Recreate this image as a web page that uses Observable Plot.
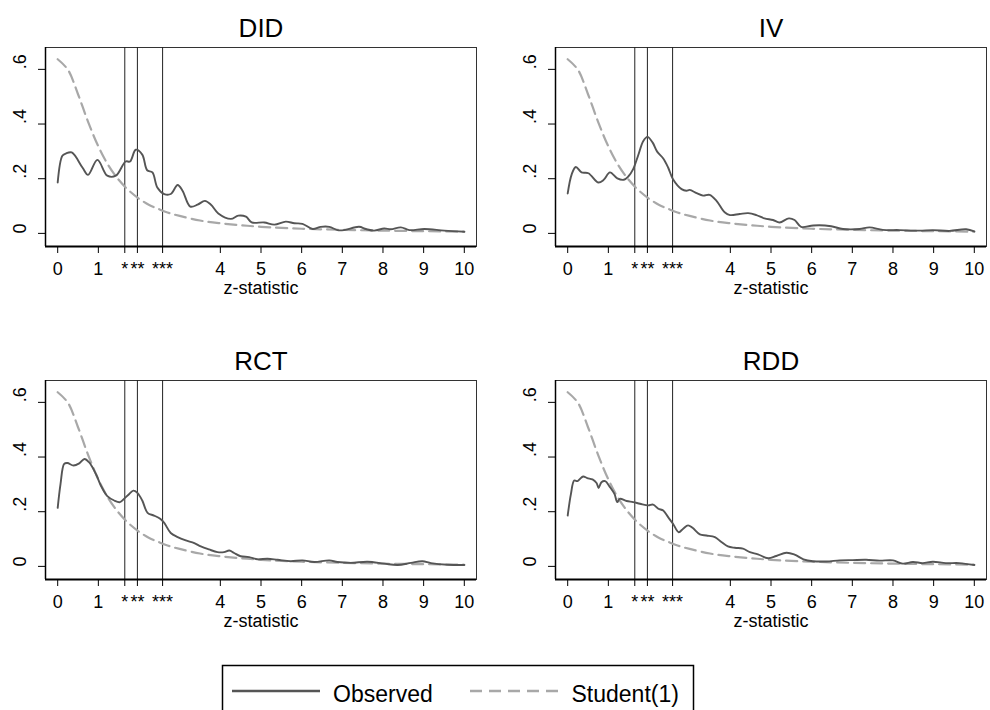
<!DOCTYPE html>
<html><head><meta charset="utf-8">
<script src="https://cdn.jsdelivr.net/npm/d3@7"></script>
<script src="https://cdn.jsdelivr.net/npm/@observablehq/plot@0.6"></script>
<style>
body{margin:0;background:#fff;font-family:"Liberation Sans",Arial,sans-serif;}
#root{position:relative;width:990px;height:710px;overflow:hidden;background:#fff;}
.panel{position:absolute;width:495px;height:300px;}
.panel svg{max-width:none !important;}
</style></head><body><div id="root"></div>
<script>
const panelTitles = ["DID", "IV", "RCT", "RDD"];
const xTickValues = [0, 1, 1.65, 1.96, 2.58, 4, 5, 6, 7, 8, 9, 10];
const xTickLabels = ["0", "1", "*", "**", "***", "4", "5", "6", "7", "8", "9", "10"];
const yTickValues = [0, 0.2, 0.4, 0.6];
const yTickLabels = ["0", ".2", ".4", ".6"];
const criticalValues = [1.65, 1.96, 2.58];
const legendLabels = ["Observed", "Student(1)"];

const studentZ = [0, 0.25, 0.5, 0.75, 1, 1.25, 1.5, 1.75, 2, 2.25, 2.5, 2.75, 3, 3.5, 4, 4.5, 5, 6, 7, 8, 9, 10];
const studentDensity = [0.637, 0.599, 0.509, 0.407, 0.318, 0.248, 0.196, 0.157, 0.127, 0.104, 0.088, 0.074, 0.064, 0.047, 0.037, 0.030, 0.024, 0.017, 0.013, 0.010, 0.008, 0.006];

const didZ = [0, 0.115, 0.2, 0.345, 0.608, 0.746, 0.977, 1.22, 1.43, 1.67, 1.78, 1.92, 2.08, 2.2, 2.33, 2.45, 2.62, 2.78, 2.95, 3.07, 3.26, 3.44, 3.62, 3.77, 3.95, 4.26, 4.44, 4.63, 4.77, 5.08, 5.33, 5.61, 5.82, 6.02, 6.27, 6.47, 6.68, 6.88, 7.04, 7.41, 7.58, 7.78, 8.03, 8.19, 8.44, 8.65, 9.02, 9.51, 10];
const didObs = [0.186, 0.284, 0.292, 0.296, 0.241, 0.214, 0.269, 0.211, 0.211, 0.263, 0.263, 0.306, 0.288, 0.231, 0.223, 0.168, 0.144, 0.144, 0.177, 0.156, 0.098, 0.105, 0.119, 0.105, 0.073, 0.053, 0.065, 0.061, 0.040, 0.040, 0.032, 0.043, 0.037, 0.035, 0.016, 0.024, 0.024, 0.012, 0.012, 0.024, 0.016, 0.010, 0.018, 0.015, 0.022, 0.012, 0.016, 0.010, 0.006];

const ivZ = [0, 0.1, 0.2, 0.34, 0.51, 0.75, 0.88, 1.04, 1.22, 1.38, 1.49, 1.61, 1.73, 1.86, 1.96, 2.09, 2.2, 2.35, 2.47, 2.59, 2.8, 2.92, 3.0, 3.17, 3.33, 3.49, 3.66, 3.86, 3.99, 4.23, 4.44, 4.64, 4.84, 5.05, 5.21, 5.44, 5.58, 5.74, 5.99, 6.19, 6.48, 6.77, 7.18, 7.42, 7.75, 8.16, 8.65, 8.98, 9.39, 9.8, 10];
const ivObs = [0.146, 0.217, 0.243, 0.223, 0.220, 0.186, 0.195, 0.223, 0.201, 0.196, 0.208, 0.235, 0.284, 0.338, 0.353, 0.332, 0.299, 0.274, 0.241, 0.198, 0.162, 0.156, 0.159, 0.147, 0.138, 0.141, 0.119, 0.077, 0.067, 0.071, 0.074, 0.067, 0.055, 0.049, 0.040, 0.055, 0.049, 0.024, 0.028, 0.030, 0.026, 0.016, 0.016, 0.022, 0.013, 0.012, 0.010, 0.012, 0.009, 0.015, 0.007];

const rctZ = [0, 0.07, 0.16, 0.24, 0.39, 0.53, 0.66, 0.77, 0.94, 1.06, 1.22, 1.39, 1.53, 1.63, 1.76, 1.86, 1.96, 2.08, 2.21, 2.37, 2.52, 2.62, 2.78, 2.95, 3.15, 3.36, 3.52, 3.72, 3.93, 4.09, 4.22, 4.34, 4.5, 4.71, 4.91, 5.16, 5.41, 5.73, 6.02, 6.31, 6.68, 6.88, 7.21, 7.62, 8.03, 8.36, 8.69, 8.97, 9.18, 9.59, 10];
const rctObs = [0.214, 0.302, 0.375, 0.378, 0.369, 0.377, 0.393, 0.381, 0.338, 0.296, 0.257, 0.241, 0.235, 0.247, 0.265, 0.277, 0.269, 0.241, 0.196, 0.186, 0.174, 0.159, 0.122, 0.107, 0.095, 0.085, 0.073, 0.062, 0.052, 0.052, 0.058, 0.049, 0.037, 0.034, 0.026, 0.028, 0.024, 0.019, 0.022, 0.016, 0.022, 0.016, 0.013, 0.017, 0.010, 0.005, 0.013, 0.019, 0.012, 0.006, 0.005];

const rddZ = [0, 0.08, 0.16, 0.24, 0.3, 0.38, 0.48, 0.61, 0.71, 0.76, 0.83, 0.92, 1.04, 1.15, 1.22, 1.28, 1.45, 1.61, 1.78, 1.98, 2.1, 2.23, 2.35, 2.47, 2.59, 2.73, 2.84, 2.96, 3.07, 3.25, 3.41, 3.62, 3.78, 3.94, 4.11, 4.31, 4.48, 4.68, 4.93, 5.13, 5.38, 5.58, 5.8, 6.03, 6.36, 6.69, 7.01, 7.34, 7.67, 8.0, 8.24, 8.49, 8.73, 8.98, 9.3, 9.63, 10];
const rddObs = [0.186, 0.265, 0.314, 0.312, 0.320, 0.329, 0.323, 0.318, 0.305, 0.287, 0.308, 0.312, 0.290, 0.265, 0.235, 0.247, 0.239, 0.235, 0.229, 0.223, 0.226, 0.211, 0.204, 0.180, 0.156, 0.125, 0.138, 0.150, 0.141, 0.117, 0.113, 0.107, 0.089, 0.073, 0.068, 0.065, 0.052, 0.044, 0.030, 0.038, 0.050, 0.043, 0.026, 0.019, 0.018, 0.022, 0.023, 0.024, 0.021, 0.022, 0.010, 0.016, 0.012, 0.017, 0.012, 0.012, 0.005];

const panelZ = [didZ, ivZ, rctZ, rddZ];
const panelObs = [didObs, ivObs, rctObs, rddObs];
const panelLeft = [0, 510, 0, 510];
const panelTop = [0, 0, 333, 333];

const FONT = "'Liberation Sans', Arial, sans-serif";
const yMin = -0.048, yMax = 0.68;

function makePanel(title, zs, obs) {
  const observed = zs.map((z, i) => ({z, v: obs[i]}));
  const student = studentZ.map((z, i) => ({z, v: studentDensity[i]}));
  return Plot.plot({
    width: 495, height: 300,
    marginLeft: 45, marginRight: 19, marginTop: 47, marginBottom: 54,
    x: {domain: [-0.3, 10.3]},
    y: {domain: [yMin, yMax]},
    style: {fontFamily: FONT, fontSize: "18px", color: "#000", background: "#fff", overflow: "visible", maxWidth: "none"},
    marks: [
      Plot.frame({stroke: "#333", strokeWidth: 1}),
      Plot.ruleX(criticalValues, {stroke: "#222", strokeWidth: 1}),
      Plot.line(student, {x: "z", y: "v", stroke: "#a8a8a8", strokeWidth: 2.2, strokeDasharray: "11,6", curve: "catmull-rom"}),
      Plot.line(observed, {x: "z", y: "v", stroke: "#555", strokeWidth: 1.9, curve: "catmull-rom"}),
      Plot.axisX({ticks: xTickValues, tickSize: 7, tickPadding: 9, tickFormat: d => xTickLabels[xTickValues.indexOf(d)], label: null, fontSize: 18}),
      Plot.axisY({ticks: yTickValues, tickSize: 7, tickFormat: () => "", label: null}),
      Plot.text(yTickValues, {y: d => d, text: (d, i) => yTickLabels[i], frameAnchor: "left", dx: -25, rotate: -90, fontSize: 18}),
      Plot.ruleY([yMin], {stroke: "#000", strokeWidth: 2}),
      Plot.ruleX([-0.3], {stroke: "#000", strokeWidth: 1.5}),
      Plot.text([title], {frameAnchor: "top", lineAnchor: "bottom", dy: -11, fontSize: 26}),
      Plot.text(["z-statistic"], {frameAnchor: "bottom", lineAnchor: "bottom", dy: 47, fontSize: 18})
    ]
  });
}

const root = document.getElementById("root");
panelTitles.forEach((t, k) => {
  const div = document.createElement("div");
  div.className = "panel";
  div.style.left = panelLeft[k] + "px";
  div.style.top = panelTop[k] + "px";
  const svg = makePanel(t, panelZ[k], panelObs[k]);
  svg.style.maxWidth = "none";
  svg.style.width = "495px";
  svg.style.height = "300px";
  div.appendChild(svg);
  root.appendChild(div);
});

// legend
const ns = "http://www.w3.org/2000/svg";
const leg = document.createElementNS(ns, "svg");
leg.setAttribute("width", 990);
leg.setAttribute("height", 70);
leg.style.position = "absolute"; leg.style.left = "0px"; leg.style.top = "640px";
leg.innerHTML = `
  <rect x="222.5" y="25.5" width="471" height="80" fill="#fff" stroke="#000" stroke-width="1.5"/>
  <line x1="232" x2="320" y1="51" y2="51" stroke="#555" stroke-width="2.5"/>
  <text x="333" y="61.5" font-family="${FONT}" font-size="23" fill="#000">${legendLabels[0]}</text>
  <line x1="470" x2="558" y1="51" y2="51" stroke="#a8a8a8" stroke-width="2.5" stroke-dasharray="12,7"/>
  <text x="571.5" y="61.5" font-family="${FONT}" font-size="23" fill="#000">${legendLabels[1]}</text>`;
root.appendChild(leg);
</script>
</body></html>
